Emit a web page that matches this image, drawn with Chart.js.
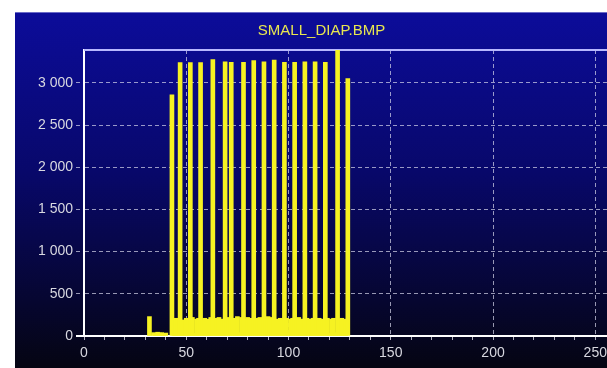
<!DOCTYPE html>
<html>
<head>
<meta charset="utf-8">
<script src="https://cdn.jsdelivr.net/npm/chart.js@4/dist/chart.umd.min.js"></script>
<style>
  html, body { margin: 0; padding: 0; background: #fff; overflow: hidden; width: 607px; height: 368px; }
  #wrap { position: absolute; left: 15px; top: 12px; }
</style>
</head>
<body>
<div id="wrap"><canvas id="c" width="620" height="356"></canvas></div>
<script>
// histogram of SMALL_DIAP.BMP, only non-empty bins
const title = 'SMALL_DIAP.BMP';
const bins = [32, 34, 35, 36, 37, 38, 39, 40,
  43, 44, 45, 46, 47, 48, 49, 50, 51, 52, 53, 54, 55, 56, 57, 58, 59, 60, 61, 62, 63,
  64, 65, 66, 67, 68, 69, 70, 71, 72, 73, 74, 75, 76, 77, 78, 79, 80, 81, 82, 83,
  84, 85, 86, 87, 88, 89, 90, 91, 92, 93, 94, 95, 96, 97, 98, 99, 100, 101, 102, 103,
  104, 105, 106, 107, 108, 109, 110, 111, 112, 113, 114, 115, 116, 117, 118, 119, 120,
  121, 122, 123, 124, 125, 126, 127, 128, 129];
const counts = [230, 40, 30, 45, 35, 40, 30, 35,
  2860, 30, 210, 200, 3240, 190, 40, 210, 200, 3240, 220, 30, 200, 210, 3240, 190, 210, 200, 40, 220, 3275,
  200, 210, 220, 30, 200, 3250, 210, 220, 3245, 200, 210, 230, 40, 220, 3245, 200, 220, 210, 30, 3265,
  210, 200, 220, 40, 3250, 200, 230, 210, 220, 3270, 200, 30, 210, 200, 3245, 210, 40, 200, 210, 3245,
  200, 220, 40, 200, 3250, 210, 200, 30, 210, 3250, 200, 210, 40, 200, 3245, 210, 30,
  200, 210, 40, 3400, 200, 210, 40, 200, 3050];
const xLabels = [0, 50, 100, 150, 200, 250];
const yTicks = [0, 500, 1000, 1500, 2000, 2500, 3000];

const points = bins.map((b, i) => ({ x: b, y: counts[i] }));
const gridCol = 'rgba(215,215,235,0.7)';

const bgPlugin = {
  id: 'bg',
  beforeDraw(chart) {
    const c = chart.ctx, w = chart.width, h = chart.height;
    const g = c.createLinearGradient(0, 0, 0, h);
    g.addColorStop(0, '#0c0c9a');
    g.addColorStop(0.45, '#08086a');
    g.addColorStop(1, '#050512');
    c.save();
    c.fillStyle = g;
    c.fillRect(0, 0, w, h);
    c.fillStyle = 'rgba(170,170,230,0.6)';
    c.fillRect(0, 0, w, 1);
    c.restore();
  },
  beforeDatasetsDraw(chart) {
    const a = chart.chartArea, c = chart.ctx;
    c.save();
    c.strokeStyle = '#b8b8ff';
    c.lineWidth = 2;
    c.beginPath();
    c.moveTo(a.left, a.top);
    c.lineTo(a.right, a.top);
    c.stroke();
    // x axis line runs a little past the y axis, like the original
    c.strokeStyle = '#ffffff';
    c.beginPath();
    c.moveTo(a.left - 8, a.bottom);
    c.lineTo(a.left, a.bottom);
    c.stroke();
    c.restore();
  }
};

new Chart(document.getElementById('c'), {
  type: 'bar',
  data: {
    datasets: [{
      data: points,
      backgroundColor: '#f6f222',
      borderWidth: 0,
      barThickness: 4,
      grouped: false
    }]
  },
  options: {
    responsive: false,
    devicePixelRatio: 1,
    animation: false,
    layout: { padding: { left: 0, right: 7, top: 0, bottom: 0 } },
    plugins: {
      legend: { display: false },
      tooltip: { enabled: false },
      title: {
        display: true,
        text: title,
        color: '#e8e650',
        font: { family: 'Liberation Sans', size: 15, weight: 'normal' },
        padding: { top: 10, bottom: 10 }
      }
    },
    scales: {
      x: {
        type: 'linear',
        min: 0,
        max: 266,
        offset: false,
        afterFit(s) { s.height = 32; },
        ticks: {
          stepSize: 10,
          includeBounds: false,
          autoSkip: false,
          maxRotation: 0,
          padding: 5,
          color: '#d8d8e0',
          font: { family: 'Liberation Sans', size: 14 },
          callback: v => xLabels.includes(v) ? String(v) : ''
        },
        grid: {
          color: ctx => (ctx.tick && ctx.tick.value % 50 === 0 && ctx.tick.value > 0) ? gridCol : 'transparent',
          tickColor: 'rgba(220,220,230,0.8)',
          tickLength: 4,
          offset: false
        },
        border: { color: '#ffffff', width: 2, dash: [4, 3] }
      },
      y: {
        min: 0,
        max: 3390,
        afterFit(s) { s.width = 69; },
        afterBuildTicks(s) { s.ticks = yTicks.map(v => ({ value: v })); },
        ticks: {
          padding: 3,
          color: '#d8d8e0',
          font: { family: 'Liberation Sans', size: 14 },
          callback: v => String(v).replace(/\B(?=(\d{3})+(?!\d))/g, ' ')
        },
        grid: {
          color: ctx => (ctx.tick && ctx.tick.value > 0) ? gridCol : 'transparent',
          tickColor: gridCol,
          tickLength: 8,
          tickBorderDash: [4, 3]
        },
        border: { color: '#ffffff', width: 2, dash: [4, 3] }
      }
    }
  },
  plugins: [bgPlugin]
});
</script>
</body>
</html>
